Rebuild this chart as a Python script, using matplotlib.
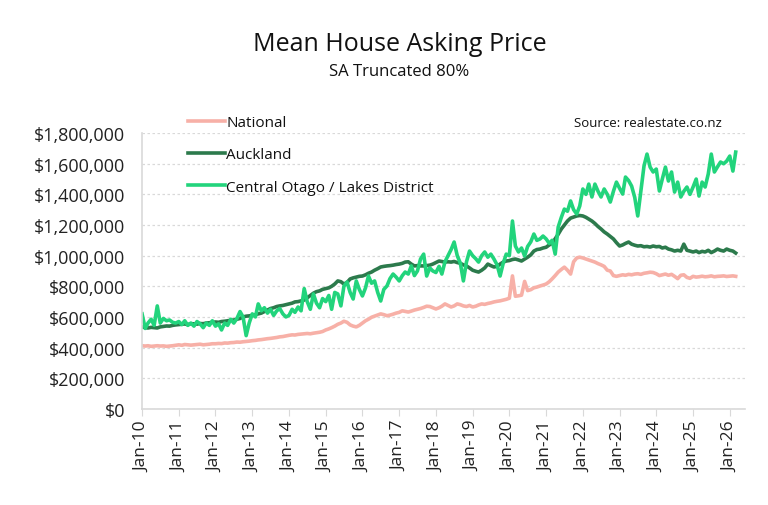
import numpy as np
import pandas as pd
import matplotlib
matplotlib.use("Agg")
import matplotlib.pyplot as plt
import matplotlib.dates as mdates
from matplotlib.ticker import FuncFormatter

plt.rcParams['font.family'] = ['Open Sans', 'DejaVu Sans']

dates = pd.date_range('2010-01-01', periods=195, freq='MS')

# monthly values in $000
national = [
    412, 410, 412, 408, 410, 412, 410, 411, 408, 410, 412, 415,
    418, 415, 420, 418, 416, 418, 420, 422, 418, 420, 422, 425,
    425, 427, 426, 430, 429, 432, 433, 436, 435, 438, 440, 442,
    445, 447, 450, 452, 455, 458, 460, 463, 466, 470, 472, 476,
    480, 483, 482, 486, 488, 490, 492, 490, 494, 497, 500, 505,
    515, 522, 530, 540, 552, 560, 572, 565, 548, 540, 535, 545,
    560, 575, 585, 598, 605, 612, 620, 615, 608, 612, 618, 625,
    630, 640, 636, 632, 638, 645, 650, 655, 662, 670, 668, 660,
    652, 660, 670, 685, 675, 665, 672, 685, 680, 672, 668, 675,
    665, 670, 678, 685, 682, 688, 692, 698, 702, 705, 710, 715,
    722, 868, 735, 738, 742, 832, 772, 778, 790, 795, 802, 808,
    815, 830, 848, 870, 893, 910, 925, 905, 880, 960, 985, 990,
    985, 978, 972, 965, 958, 948, 940, 930, 905, 900, 870, 865,
    870, 875, 872, 878, 875, 880, 882, 878, 885, 888, 892, 890,
    882, 870, 875, 880, 872, 878, 865, 850, 872, 875, 858, 852,
    865, 860, 862, 866, 862, 864, 868, 862, 865, 866, 868, 864,
    866, 868, 865,
]

auckland = [
    535, 530, 528, 532, 530, 528, 535, 538, 541, 540, 545, 548,
    550, 552, 554, 550, 556, 555, 553, 557, 556, 560, 562, 565,
    567, 565, 570, 572, 575, 578, 580, 585, 590, 600, 605, 607,
    610, 615, 620, 625, 635, 645, 655, 660, 668, 672, 675, 680,
    685, 690, 698, 700, 705, 710, 725, 740, 755, 765, 770, 780,
    785, 790, 800, 815, 835, 830, 815, 825, 848, 855, 860, 865,
    867, 875, 885, 893, 905, 915, 926, 930, 933, 935, 938, 942,
    945, 950, 958, 960, 945, 933, 935, 933, 933, 935, 938, 945,
    955, 965, 962, 958, 960, 958, 962, 955, 950, 940, 933, 920,
    905, 898, 893, 905, 920, 945, 935, 926, 930, 945, 958, 965,
    968, 975, 978, 972, 965, 978, 990, 1005, 1030, 1040, 1043, 1050,
    1055, 1070, 1080, 1110, 1140, 1174, 1200, 1226, 1245, 1252, 1259, 1262,
    1259, 1250, 1239, 1226, 1210, 1190, 1174, 1155, 1141, 1125, 1109, 1085,
    1063, 1070, 1080, 1089, 1075, 1068, 1063, 1065, 1058, 1060, 1056, 1063,
    1058, 1060, 1050, 1055, 1043, 1038, 1030, 1035, 1030, 1075, 1035, 1030,
    1024, 1030, 1020, 1028, 1024, 1035, 1020, 1030, 1043, 1035, 1030, 1043,
    1035, 1030, 1017,
]

central_otago = [
    620, 525, 560, 585, 545, 672, 560, 590, 575, 580, 565, 560,
    570, 550, 575, 545, 560, 540, 570, 555, 530, 560, 545, 575,
    540, 555, 515, 560, 545, 585, 560, 590, 635, 600, 478, 560,
    620, 600, 685, 640, 660, 625, 650, 610, 640, 655, 620, 600,
    610, 650, 630, 665, 640, 785, 700, 650, 750, 690, 660, 720,
    700, 740, 650, 760, 750, 672, 800, 828, 760, 717, 835, 780,
    737, 790, 867, 820, 835, 760, 704, 780, 802, 850, 880, 860,
    835, 870, 893, 880, 933, 870, 900, 978, 1010, 867, 920, 900,
    890, 930, 880, 960, 1000, 1040, 1089, 1000, 950, 835, 960, 1030,
    1000, 980, 958, 1000, 1024, 990, 1010, 978, 940, 867, 950, 1010,
    1000, 1226, 1063, 1024, 1050, 998, 1060, 1090, 1141, 1100, 1109, 1128,
    1109, 1080, 1100, 1010, 1187, 1250, 1304, 1290, 1357, 1300, 1272, 1324,
    1435, 1400, 1467, 1383, 1467, 1420, 1383, 1435, 1400, 1350, 1420, 1480,
    1440, 1402, 1513, 1490, 1454, 1380, 1259, 1420, 1585, 1663, 1578, 1546,
    1565, 1422, 1500, 1578, 1487, 1546, 1415, 1480, 1383, 1420, 1448, 1400,
    1448, 1500, 1389, 1480, 1448, 1533, 1663, 1546, 1580, 1611, 1600, 1617,
    1650, 1552, 1676,
]

series = [('National', national, '#f7b0a7'),
          ('Auckland', auckland, '#2c7a4c'),
          ('Central Otago / Lakes District', central_otago, '#22d47c')]

fig = plt.figure(figsize=(7.68, 5.06), dpi=100)
ax = fig.add_axes([0.185, 0.19, 0.785, 0.545])

for name, vals, col in series:
    ax.plot(dates, np.array(vals) * 1000, color=col, lw=2.6, label=name,
            solid_joinstyle='round')

ax.set_ylim(0, 1800000)
ax.set_yticks(np.arange(0, 1800001, 200000))
ax.yaxis.set_major_formatter(FuncFormatter(lambda v, p: '${:,.0f}'.format(v)))
ax.set_xlim(pd.Timestamp('2010-01-01'), pd.Timestamp('2026-06-01'))
ax.xaxis.set_major_locator(mdates.YearLocator())
ax.xaxis.set_major_formatter(mdates.DateFormatter('Jan-%y'))

ax.grid(axis='y', color='#d9d9d9', ls=(0, (2, 2)), lw=0.9)
ax.set_axisbelow(True)
for s in ['top', 'right']:
    ax.spines[s].set_visible(False)
for s in ['left', 'bottom']:
    ax.spines[s].set_color('#d9d9d9')
    ax.spines[s].set_linewidth(1.2)
ax.tick_params(axis='y', length=0, pad=12, labelsize=13, labelcolor='#222222')
ax.tick_params(axis='x', length=5, color='#d9d9d9', pad=3, labelsize=12.5,
               labelcolor='#222222', labelrotation=90)

fig.text(0.52, 0.912, 'Mean House Asking Price', ha='center', va='center',
         fontsize=18, color='#111111')
fig.text(0.52, 0.858, 'SA Truncated 80%', ha='center', va='center',
         fontsize=12, color='#111111')
fig.text(0.94, 0.755, 'Source: realestate.co.nz', ha='right', va='center',
         fontsize=9.5, color='#111111')

leg = fig.legend(loc='upper left', bbox_to_anchor=(0.245, 0.770), frameon=False,
                 fontsize=11, handlelength=2.4, handletextpad=0.1,
                 labelspacing=1.12, borderpad=0, borderaxespad=0)
for t in leg.get_texts():
    t.set_color('#111111')

fig.savefig('out.png', dpi=100)
